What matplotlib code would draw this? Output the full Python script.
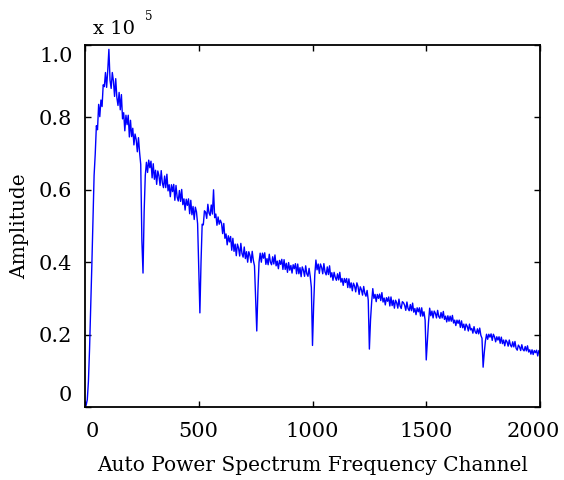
import numpy as np
import matplotlib

matplotlib.use('Agg')
import matplotlib.pyplot as plt
import matplotlib.transforms as mtransforms

# --- Data: auto power spectrum, every 5 channels ---
# values in thousandths of 1e5
step = 5
amp_milli = [
    0, 5, 20, 70, 160, 270, 390, 520, 640, 699, 777, 766, 836, 802, 848, 830, 890, 885, 924, 883,
    930, 988, 903, 880, 924, 900, 858, 907, 855, 833, 869, 821, 863, 796, 813, 763, 806, 780, 806, 746,
    792, 747, 770, 724, 754, 739, 705, 744, 703, 670, 460, 370, 540, 640, 676, 648, 682, 661, 679, 633,
    672, 629, 654, 615, 652, 639, 612, 653, 619, 606, 638, 606, 643, 597, 614, 581, 614, 595, 615, 571,
    612, 580, 569, 598, 568, 601, 559, 575, 544, 574, 557, 575, 534, 571, 531, 554, 518, 552, 539, 506,
    380, 260, 400, 505, 503, 542, 538, 521, 560, 536, 529, 558, 533, 600, 523, 533, 502, 525, 505, 516,
    508, 479, 507, 466, 478, 448, 473, 456, 471, 433, 466, 430, 450, 418, 450, 439, 417, 452, 424, 414,
    442, 410, 429, 400, 429, 419, 399, 430, 405, 390, 300, 210, 320, 400, 425, 400, 425, 411, 426, 394,
    410, 393, 422, 400, 393, 415, 395, 420, 390, 403, 382, 405, 394, 408, 380, 407, 380, 397, 372, 399,
    378, 391, 370, 393, 382, 396, 368, 395, 368, 385, 360, 387, 378, 361, 390, 368, 361, 383, 361, 330,
    170, 280, 365, 406, 379, 395, 369, 395, 386, 368, 396, 373, 365, 387, 366, 390, 359, 371, 350, 372,
    358, 350, 368, 351, 372, 345, 355, 336, 355, 344, 355, 330, 354, 329, 343, 321, 342, 334, 318, 343,
    333, 311, 332, 324, 309, 333, 314, 306, 322, 295, 160, 240, 290, 327, 300, 311, 291, 311, 300, 312,
    294, 316, 290, 301, 282, 302, 292, 304, 279, 304, 280, 295, 273, 295, 288, 273, 298, 279, 272, 291,
    288, 281, 267, 290, 272, 266, 283, 266, 287, 262, 272, 255, 274, 263, 274, 251, 274, 251, 263, 240,
    130, 185, 235, 273, 252, 265, 246, 265, 259, 246, 267, 250, 245, 261, 246, 264, 242, 251, 235, 252,
    237, 251, 237, 253, 232, 240, 225, 240, 231, 240, 220, 238, 219, 229, 212, 229, 223, 210, 229, 213,
    217, 204, 222, 208, 203, 216, 202, 218, 198, 190, 110, 150, 182, 201, 187, 201, 193, 202, 184, 201,
    194, 180, 194, 185, 194, 176, 193, 175, 185, 169, 185, 180, 168, 185, 171, 166, 180, 166, 181, 162,
    157, 171, 166, 156, 172, 159, 155, 167, 155, 169, 152, 158, 146, 158, 145, 156, 150, 157, 141, 156,
    150,
]
amplitude = np.array(amp_milli) / 1000.0
channel = np.arange(len(amplitude)) * step

x_ticks = [0, 500, 1000, 1500, 2000]
y_ticks = [0, 0.2, 0.4, 0.6, 0.8, 1.0]
y_tick_labels = ['0', '0.2', '0.4', '0.6', '0.8', '1.0']

plt.rcParams['font.family'] = ['DejaVu Serif']

fig = plt.figure(figsize=(5.64, 4.8), dpi=100)
ax = fig.add_axes([85 / 564, 1 - 407 / 480, 455 / 564, 362 / 480])

ax.plot(channel, amplitude, color='#0000ff', lw=1.0)

ax.set_xlim(0, 2000)
ax.set_ylim(0, 1.0)
ax.set_xticks(x_ticks)
ax.set_yticks(y_ticks)
ax.set_yticklabels(y_tick_labels)
ax.tick_params(direction='in', length=4, width=1, top=True, right=True,
               labelsize=15, pad=9)
ax.tick_params(axis='x', pad=11)
for s in ax.spines.values():
    s.set_linewidth(1.3)

ax.set_xlabel('Auto Power Spectrum Frequency Channel', fontsize=14.5)
ax.set_ylabel('Amplitude', fontsize=14.5)
ax.xaxis.set_label_coords(0.5, -0.135)
ax.yaxis.set_label_coords(-0.122, 0.5)

# end labels sit a little inside the frame, as in the original
def shift(lbl, dx, dy):
    lbl.set_transform(lbl.get_transform() +
                      mtransforms.ScaledTranslation(dx / 72, dy / 72, fig.dpi_scale_trans))

xt = ax.xaxis.get_major_ticks()
yt = ax.yaxis.get_major_ticks()
shift(xt[0].label1, 5, 0)
shift(xt[-1].label1, -5, 0)
shift(yt[0].label1, 0, 10)
shift(yt[-1].label1, 0, -7)

# exponent note
fig.text(93 / 564, 1 - 34 / 480, 'x 10', fontsize=14, va='baseline', ha='left')
fig.text(145 / 564, 1 - 20 / 480, '5', fontsize=8.5, va='baseline', ha='left')

fig.savefig('out.png', dpi=100)
